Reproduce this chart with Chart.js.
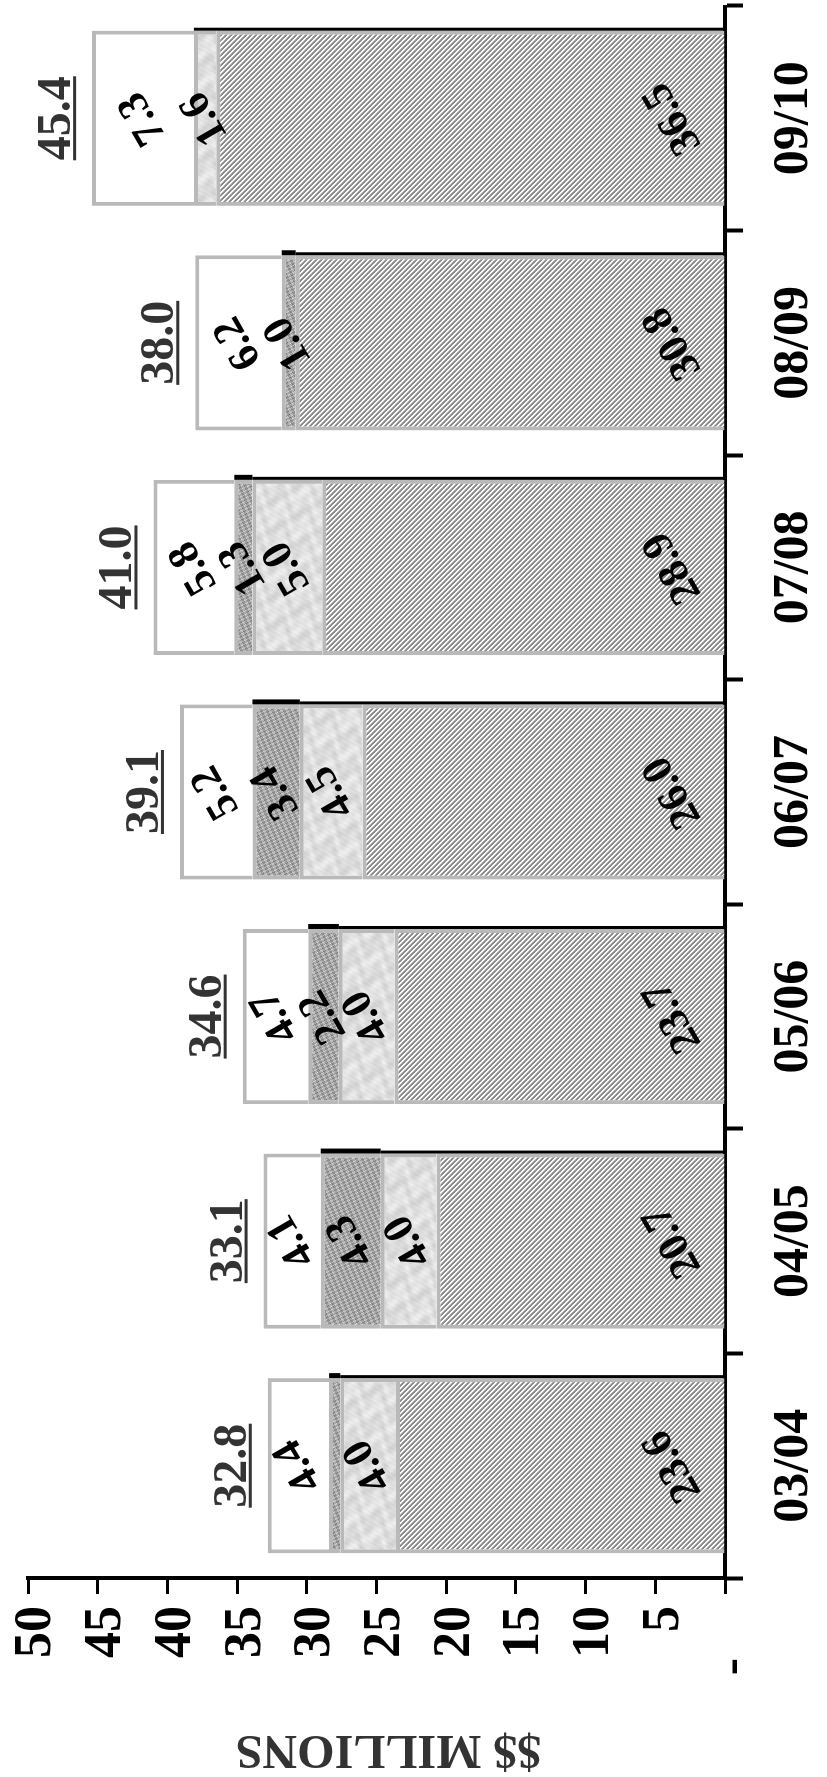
<!DOCTYPE html>
<html>
<head>
<meta charset="utf-8">
<script src="https://cdn.jsdelivr.net/npm/chart.js@4.4.1/dist/chart.umd.min.js"></script>
<style>
  html, body { margin: 0; padding: 0; background: #fff; overflow: hidden; }
  /* chart is drawn upright (1777 wide) and turned a quarter turn counter-clockwise */
  #wrap {
    position: absolute; left: 0; top: 0; width: 1777px; height: 827px;
    transform-origin: 0 0; transform: translate(0, 1777px) rotate(-90deg);
  }
</style>
</head>
<body>
<div id="wrap"><canvas id="chart" width="1777" height="827"></canvas></div>
<script>
const categories = ["03/04", "04/05", "05/06", "06/07", "07/08", "08/09", "09/10"];
const baseValues = [23.6, 20.7, 23.7, 26.0, 28.9, 30.8, 36.5];
const secondValues = [4.0, 4.0, 4.0, 4.5, 5.0, 0, 1.6];
const thirdValues = [0.8, 4.3, 2.2, 3.4, 1.3, 1.0, 0];
const topValues = [4.4, 4.1, 4.7, 5.2, 5.8, 6.2, 7.3];
const totals = [32.8, 33.1, 34.6, 39.1, 41.0, 38.0, 45.4];
const valueTicks = [0, 5, 10, 15, 20, 25, 30, 35, 40, 45, 50];

const SERIF = '"Liberation Serif", "Times New Roman", serif';
const canvas = document.getElementById("chart");
const ctx = canvas.getContext("2d");

function makePattern(size, shade) {
  const tile = document.createElement("canvas");
  tile.width = tile.height = size;
  const g = tile.getContext("2d");
  const img = g.createImageData(size, size);
  for (let j = 0; j < size; j++) {
    for (let i = 0; i < size; i++) {
      const v = Math.max(0, Math.min(255, Math.round(shade(i, j))));
      const k = (j * size + i) * 4;
      img.data[k] = img.data[k + 1] = img.data[k + 2] = v;
      img.data[k + 3] = 255;
    }
  }
  g.putImageData(img, 0, 0);
  return ctx.createPattern(tile, "repeat");
}

// diagonal hatch
const hatch = makePattern(5, function (i, j) {
  const m = (((i - j) % 5) + 5) % 5;
  return m < 2 ? 140 : (m === 2 ? 178 : 255);
});
// soft light marble
const f96 = Math.PI * 2 / 96;
const marble = makePattern(96, function (i, j) {
  return 223 + 9 * Math.sin(f96 * (3 * i + 2 * j) + 2.0 * Math.sin(f96 * 4 * j))
    + 5 * Math.sin(f96 * (7 * i - 4 * j) + 1) + 3 * Math.sin(f96 * (19 * i + 11 * j));
});
// darker speckle
const f40 = Math.PI * 2 / 40;
const speckle = makePattern(40, function (i, j) {
  return 166 + 20 * Math.sin(f40 * (3 * i + 7 * j) + 1) + 18 * Math.sin(f40 * (11 * i - 5 * j) + 2)
    + 14 * Math.sin(f40 * (17 * i + 13 * j)) + 12 * Math.sin(f40 * (-9 * i + 19 * j) + 0.5);
});

const BORDER = "#b9b9b9";
function seg(data, fill) {
  return {
    data: data,
    backgroundColor: fill,
    borderColor: BORDER,
    borderWidth: 4,
    borderSkipped: "start",
    barPercentage: 0.78,
    categoryPercentage: 1.0,
  };
}

const barLabels = {
  id: "barLabels",
  afterDatasetsDraw(chart) {
    const c = chart.ctx;
    const y = chart.scales.y;
    const zero = y.getPixelForValue(0);
    const m0 = chart.getDatasetMeta(0);
    c.save();
    // black edge line along the side of the lower segments
    c.fillStyle = "#000";
    categories.forEach(function (_, j) {
      const el = m0.data[j];
      const xr = el.x + el.width / 2;
      const yA = y.getPixelForValue(baseValues[j] + secondValues[j]);
      c.fillRect(xr, yA, 3, zero - yA);
      if (thirdValues[j] > 0) {
        const yB = y.getPixelForValue(baseValues[j] + secondValues[j] + thirdValues[j]);
        c.fillRect(xr, yB, 5, yA - yB);
      }
    });
    // slanted values inside segments
    c.font = "bold 43px " + SERIF;
    c.fillStyle = "#000";
    c.textAlign = "center";
    c.textBaseline = "middle";
    const series = [baseValues, secondValues, thirdValues, topValues];
    series.forEach(function (vals, i) {
      const meta = chart.getDatasetMeta(i);
      vals.forEach(function (v, j) {
        if (v < 0.9) return;
        const el = meta.data[j];
        const cy = i === 0 ? zero - 52 : (el.y + el.base) / 2;
        c.save();
        c.translate(el.x, cy);
        c.rotate(-Math.PI / 6);
        c.fillText(v.toFixed(1), 0, 0);
        c.restore();
      });
    });
    // underlined totals
    c.font = "bold 48px " + SERIF;
    c.fillStyle = "#333";
    c.textBaseline = "alphabetic";
    totals.forEach(function (t, j) {
      const el = m0.data[j];
      const top = y.getPixelForValue(t);
      const txt = t.toFixed(1);
      const w = c.measureText(txt).width;
      c.fillText(txt, el.x, top - 22);
      c.fillRect(el.x - w / 2, top - 19, w, 3);
    });
    c.restore();
  },
};

new Chart(canvas, {
  type: "bar",
  data: {
    labels: categories,
    datasets: [
      seg(baseValues, hatch),
      seg(secondValues, marble),
      seg(thirdValues, speckle),
      seg(topValues, "#ffffff"),
    ],
  },
  options: {
    responsive: false,
    animation: false,
    layout: { padding: { left: 0, right: 6, top: 28, bottom: 0 } },
    plugins: { legend: { display: false }, tooltip: { enabled: false } },
    scales: {
      x: {
        stacked: true,
        grid: { offset: true, drawOnChartArea: false, drawTicks: true, tickLength: 18, tickWidth: 4, tickColor: "#000" },
        border: { display: true, color: "#000", width: 4 },
        ticks: { color: "#000", font: { family: SERIF, size: 50, weight: "bold" }, padding: 21, maxRotation: 0, autoSkip: false },
        afterFit(scale) { scale.height = 102; },
      },
      y: {
        stacked: true,
        min: 0,
        max: 50,
        afterBuildTicks(scale) { scale.ticks = valueTicks.map(function (v) { return { value: v }; }); },
        grid: { drawOnChartArea: false, drawTicks: true, tickLength: 16, tickWidth: 3, tickColor: "#000" },
        border: { display: true, color: "#000", width: 4 },
        ticks: {
          color: "#000",
          font: { family: SERIF, size: 52, weight: "bold", lineHeight: 0.5 },
          padding: 12,
          labelOffset: 9,
          callback: function (v) { return v === 0 ? "-    " : String(v); },
        },
        title: {
          display: true,
          text: "$$ MILLIONS  ",
          color: "#333",
          font: { family: SERIF, size: 48, weight: "bold" },
          padding: 0,
        },
        afterFit(scale) { scale.width = 199; },
      },
    },
  },
  plugins: [barLabels],
});
</script>
</body>
</html>
